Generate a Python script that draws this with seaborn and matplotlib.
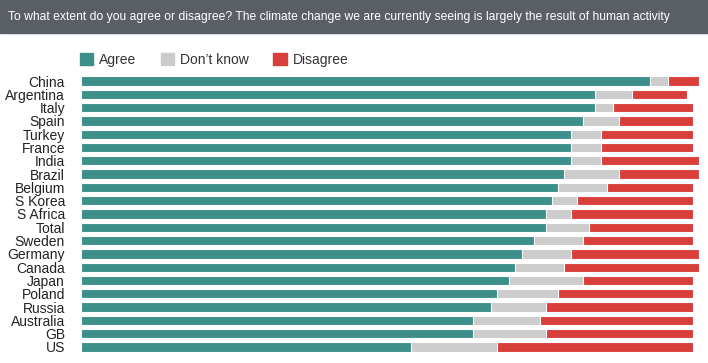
import numpy as np
import pandas as pd
import matplotlib
matplotlib.use('Agg')
import matplotlib.pyplot as plt
from matplotlib.patches import Patch, Rectangle
import seaborn as sns

countries = ['China', 'Argentina', 'Italy', 'Spain', 'Turkey', 'France', 'India',
             'Brazil', 'Belgium', 'S Korea', 'S Africa', 'Total', 'Sweden',
             'Germany', 'Canada', 'Japan', 'Poland', 'Russia', 'Australia', 'GB', 'US']
agree = [93, 84, 84, 82, 80, 80, 80, 79, 78, 77, 76, 76, 74, 72, 71, 70, 68, 67, 64, 64, 54]
dont_know = [3, 6, 3, 6, 5, 5, 5, 9, 8, 4, 4, 7, 8, 8, 8, 12, 10, 9, 11, 12, 14]
disagree = [5, 9, 13, 12, 15, 15, 16, 13, 14, 19, 20, 17, 18, 21, 22, 18, 22, 24, 25, 24, 32]

teal = '#3d8f8a'
grey = '#cccccc'
red = '#d83f3b'

df = pd.DataFrame({'country': countries, 'agree': agree,
                   'dont_know': dont_know, 'disagree': disagree})
df['cum_dk'] = df['agree'] + df['dont_know']
df['cum_all'] = df['cum_dk'] + df['disagree']

sns.set_theme(style='white')
plt.rcParams['font.family'] = ['Liberation Sans', 'DejaVu Sans']

fig = plt.figure(figsize=(7.08, 3.63), dpi=100)
ax = fig.add_axes([81 / 708, 0.026, 618 / 708, 0.769])

# stacked bars drawn as overlapping cumulative totals
for col, c in [('cum_all', red), ('cum_dk', grey), ('agree', teal)]:
    sns.barplot(data=df, x=col, y='country', color=c, orient='h', width=0.7,
                edgecolor='white', linewidth=0.8, ax=ax, saturation=1)

ax.set_xlim(0, 101)
ax.set_xlabel('')
ax.set_ylabel('')
ax.set_xticks([])
ax.tick_params(axis='y', length=0, pad=11.5, labelsize=10, labelcolor='#222222')
sns.despine(ax=ax, left=True, bottom=True)

# title band
fig.patches.append(Rectangle((0, 1 - 33 / 363), 1, 33 / 363, transform=fig.transFigure,
                             color='#5a5f66', zorder=0))
fig.text(8 / 708, 1 - 17 / 363, 'To what extent do you agree or disagree? The climate change '
         'we are currently seeing is largely the result of human activity',
         color='white', fontsize=8.7, va='center', ha='left')

handles = [Patch(color=teal, label='Agree'), Patch(color=grey, label="Don\u2019t know"),
           Patch(color=red, label='Disagree')]
fig.legend(handles=handles, loc='center left', bbox_to_anchor=(67 / 708, 1 - 60 / 363),
           ncol=3, frameon=False, fontsize=10, handlelength=1.0, handleheight=1.0,
           handletextpad=0.4, columnspacing=1.75, labelcolor='#333333')

fig.savefig('out.png', dpi=100)
